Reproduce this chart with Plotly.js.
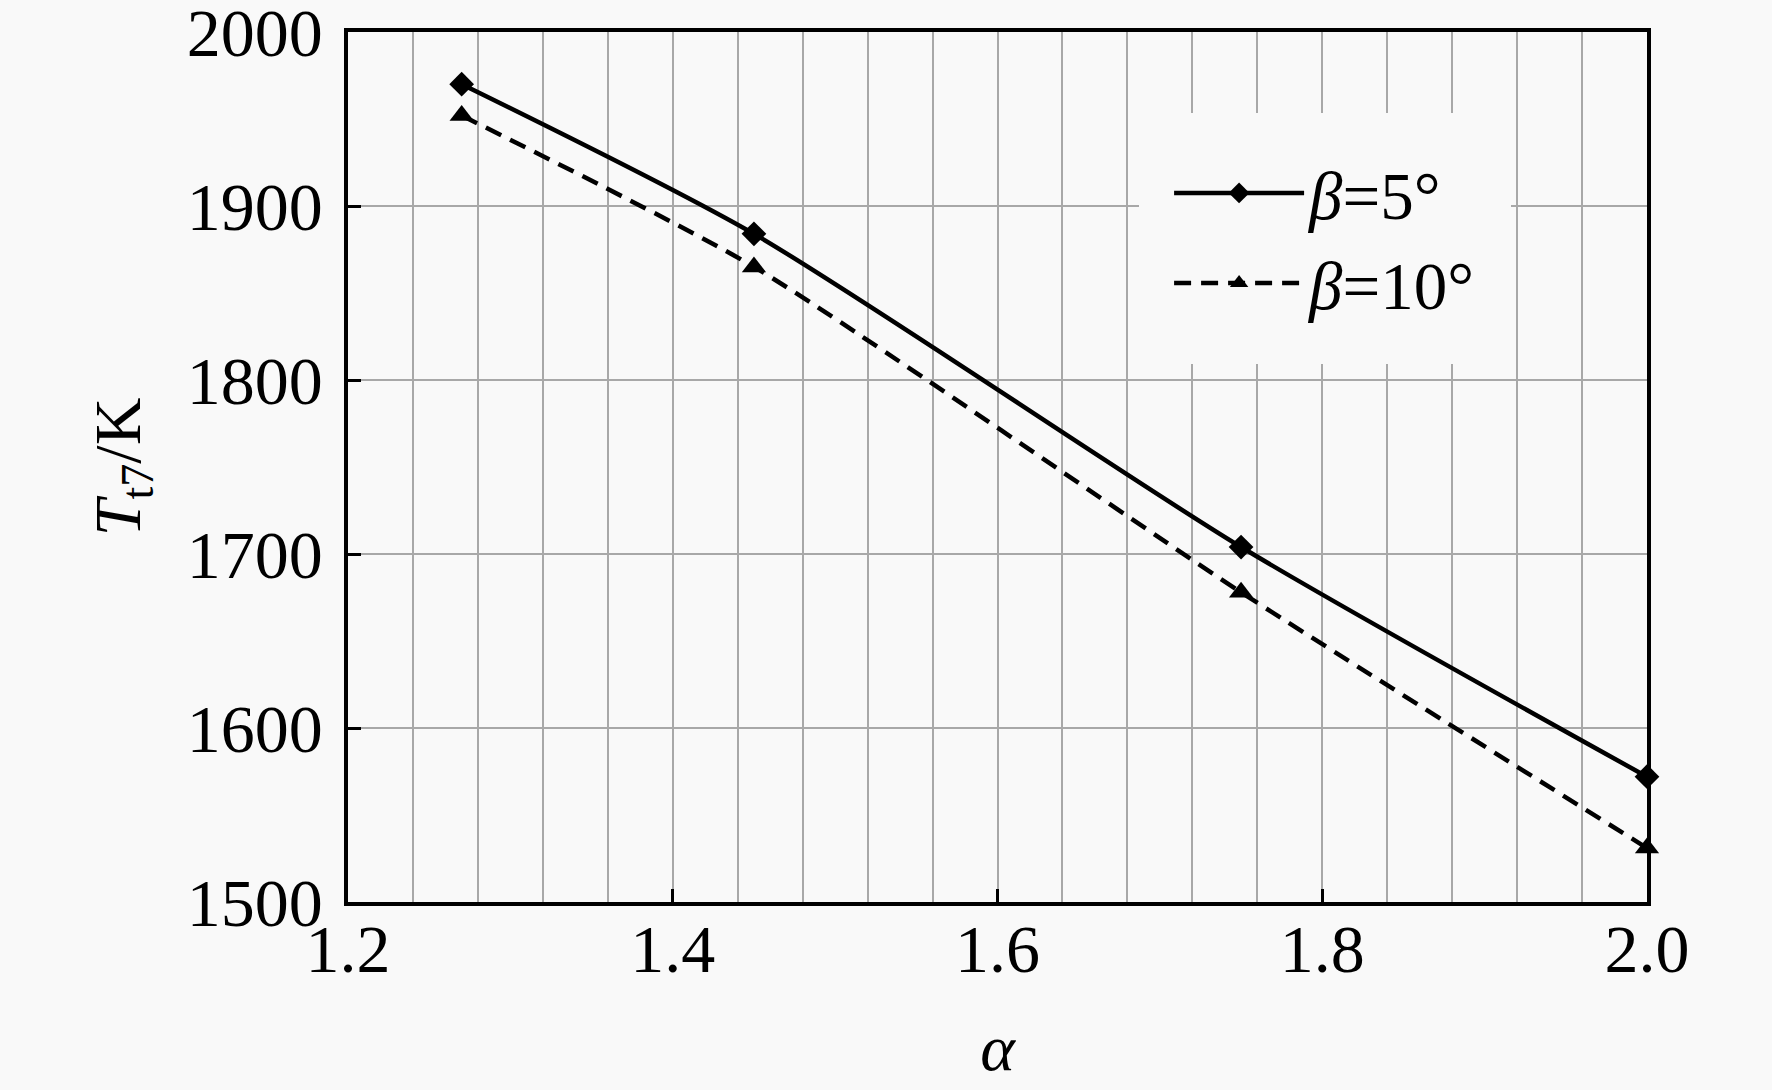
<!DOCTYPE html>
<html>
<head>
<meta charset="utf-8">
<script src="https://cdn.plot.ly/plotly-3.0.1.min.js"></script>
<style>
  html, body { margin: 0; padding: 0; background: #f9f9f9; }
  #chart { width: 1772px; height: 1090px; }
</style>
</head>
<body>
<div id="chart"></div>
<script>
// alpha values and outlet total temperature T_t7 (K)
const alpha = [1.27, 1.45, 1.75, 2.0];
const tt7Beta5 = [1970, 1884, 1704, 1572];
const tt7Beta10 = [1952, 1865, 1678, 1531];

const seriesNames = ['<i>β</i>=5°', '<i>β</i>=10°'];
const xTickVals = [1.2, 1.4, 1.6, 1.8, 2.0];
const xTickText = ['1.2', '1.4', '1.6', '1.8', '2.0'];
const yTickVals = [1500, 1600, 1700, 1800, 1900, 2000];

const FONT = 'Liberation Serif, Times New Roman, serif';
const BG = '#f9f9f9';
const GRID = '#a8a8a8';

const traces = [
    {
        x: alpha, y: tt7Beta5,
        type: 'scatter', mode: 'lines+markers',
        name: seriesNames[0], cliponaxis: false,
        line: { color: '#000', width: 4.5, shape: 'spline', smoothing: 0.7 },
        marker: { symbol: 'diamond', size: 19, color: '#000' }
    },
    {
        x: alpha, y: tt7Beta10,
        type: 'scatter', mode: 'lines+markers',
        name: seriesNames[1], cliponaxis: false,
        line: { color: '#000', width: 4.5, dash: '17px,10px', shape: 'spline', smoothing: 0.6 },
        marker: { symbol: 'triangle-up', size: 21, color: '#000' }
    }
];

const layout = {
    width: 1772,
    height: 1090,
    margin: { l: 348, r: 125, t: 32, b: 188, pad: 0 },
    paper_bgcolor: BG,
    plot_bgcolor: BG,
    font: { family: FONT, size: 68, color: '#000' },
    showlegend: true,
    legend: {
        x: 0.609, xanchor: 'left',
        y: 0.907, yanchor: 'top',
        bgcolor: BG, bordercolor: BG, borderwidth: 30,
        font: { family: FONT, size: 67, color: '#000' },
        itemwidth: 130,
        tracegroupgap: 0
    },
    xaxis: {
        range: [1.2, 2.0],
        tickvals: xTickVals, ticktext: xTickText,
        ticks: 'inside', ticklen: 13, tickwidth: 3, tickcolor: '#000',
        ticklabelstandoff: -15,
        ticklabeloverflow: 'allow',
        showline: true, linecolor: '#000', linewidth: 3.5, mirror: true,
        showgrid: true, gridcolor: GRID, gridwidth: 2,
        minor: { dtick: 0.04, showgrid: true, gridcolor: GRID, gridwidth: 2, ticks: '' },
        zeroline: false,
        tickfont: { family: FONT, size: 68, color: '#000' },
        title: { text: '<i>α</i>', font: { family: FONT, size: 66, color: '#000' }, standoff: 38 }
    },
    yaxis: {
        range: [1500, 2000],
        tickvals: yTickVals,
        ticks: 'inside', ticklen: 13, tickwidth: 3, tickcolor: '#000',
        ticklabelstandoff: 8,
        ticklabeloverflow: 'allow',
        showline: true, linecolor: '#000', linewidth: 3.5, mirror: true,
        showgrid: true, gridcolor: GRID, gridwidth: 2,
        zeroline: false,
        tickfont: { family: FONT, size: 68, color: '#000' },
        title: { text: '<i>T</i><sub>t7</sub>/K', font: { family: FONT, size: 66, color: '#000' }, standoff: 26 }
    }
};

Plotly.newPlot('chart', traces, layout, { displayModeBar: false, responsive: false });
</script>
</body>
</html>
